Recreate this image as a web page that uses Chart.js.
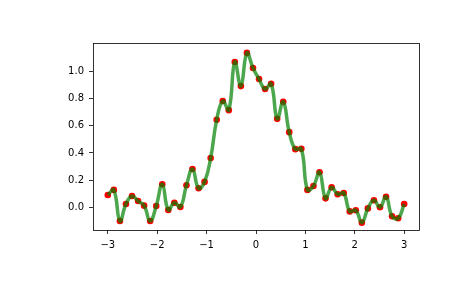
<!DOCTYPE html>
<html>
<head>
<meta charset="utf-8">
<script src="https://cdn.jsdelivr.net/npm/chart.js@4.4.1/dist/chart.umd.min.js"></script>
<style>
  html, body { margin: 0; padding: 0; background: #fff; }
  #wrap { width: 465px; height: 288px; }
</style>
</head>
<body>
<div id="wrap"><canvas id="grafico"></canvas></div>
<script>
// x positions of the samples (50 evenly spaced from -3 to 3)
const xValores = [
  -3.000, -2.878, -2.755, -2.633, -2.510, -2.388, -2.265, -2.143, -2.020, -1.898,
  -1.776, -1.653, -1.531, -1.408, -1.286, -1.163, -1.041, -0.918, -0.796, -0.673,
  -0.551, -0.429, -0.306, -0.184, -0.061, 0.061, 0.184, 0.306, 0.429, 0.551,
  0.673, 0.796, 0.918, 1.041, 1.163, 1.286, 1.408, 1.531, 1.653, 1.776,
  1.898, 2.020, 2.143, 2.265, 2.388, 2.510, 2.633, 2.755, 2.878, 3.000
];
// measured y values (noisy gaussian)
const yValores = [
  0.091, 0.128, -0.101, 0.024, 0.083, 0.046, 0.012, -0.101, 0.010, 0.170,
  -0.020, 0.034, 0.002, 0.162, 0.282, 0.140, 0.187, 0.362, 0.644, 0.782,
  0.715, 1.069, 0.892, 1.136, 1.025, 0.944, 0.870, 0.909, 0.651, 0.777,
  0.553, 0.428, 0.430, 0.128, 0.157, 0.258, 0.066, 0.147, 0.096, 0.105,
  -0.030, -0.022, -0.113, -0.008, 0.052, 0.000, 0.078, -0.066, -0.081, 0.024
];
const ticksX = [-3, -2, -1, 0, 1, 2, 3];
const ticksY = [0.0, 0.2, 0.4, 0.6, 0.8, 1.0];

const puntos = xValores.map((x, i) => ({ x: x, y: yValores[i] }));

// caja completa alrededor del area (como los spines de matplotlib)
const marco = {
  id: 'marco',
  afterDraw(chart) {
    const a = chart.chartArea;
    const ctx = chart.ctx;
    ctx.save();
    ctx.strokeStyle = '#000';
    ctx.lineWidth = 0.8;
    ctx.strokeRect(Math.round(a.left) + 0.5, Math.round(a.top) + 0.5,
      Math.round(a.right - a.left), Math.round(a.bottom - a.top));
    ctx.restore();
  }
};

const menos = v => String(v).replace('-', '\u2212');

new Chart(document.getElementById('grafico').getContext('2d'), {
  type: 'line',
  data: {
    datasets: [
      {
        data: puntos,
        borderColor: 'rgba(0, 128, 0, 0.7)',
        borderWidth: 3.5,
        tension: 0.45,
        pointRadius: 0,
        fill: false,
        order: 0
      },
      {
        data: puntos,
        showLine: false,
        pointRadius: 3.3,
        pointBackgroundColor: '#ff0000',
        pointBorderWidth: 0,
        order: 1
      }
    ]
  },
  plugins: [marco],
  options: {
    responsive: true,
    maintainAspectRatio: false,
    animation: false,
    layout: { padding: { top: 43, right: 46, left: 0, bottom: 0 } },
    plugins: {
      legend: { display: false },
      tooltip: { enabled: false }
    },
    scales: {
      x: {
        type: 'linear',
        min: -3.3,
        max: 3.3,
        afterBuildTicks: s => { s.ticks = ticksX.map(v => ({ value: v })); },
        afterFit: s => { s.height = 58; },
        grid: { display: true, drawOnChartArea: false, drawTicks: true, tickLength: 4, color: '#000', lineWidth: 0.8 },
        border: { display: false },
        ticks: {
          color: '#000',
          padding: 5,
          maxRotation: 0,
          font: { family: 'DejaVu Sans', size: 10 },
          callback: v => menos(v)
        }
      },
      y: {
        type: 'linear',
        min: -0.167,
        max: 1.209,
        afterBuildTicks: s => { s.ticks = ticksY.map(v => ({ value: v })); },
        afterFit: s => { s.width = 93; },
        grid: { display: true, drawOnChartArea: false, drawTicks: true, tickLength: 4, color: '#000', lineWidth: 0.8 },
        border: { display: false },
        ticks: {
          color: '#000',
          padding: 5,
          font: { family: 'DejaVu Sans', size: 10 },
          callback: v => menos(v.toFixed(1))
        }
      }
    }
  }
});
</script>
</body>
</html>
